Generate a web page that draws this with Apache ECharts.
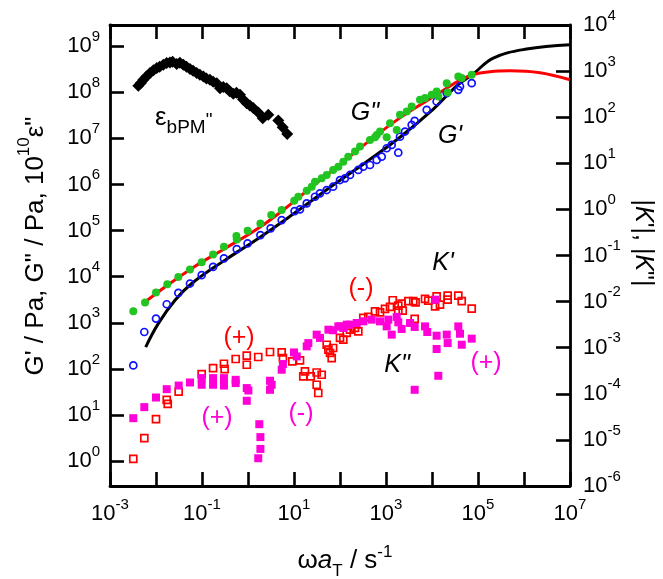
<!DOCTYPE html>
<html>
<head>
<meta charset="utf-8">
<script src="https://cdn.jsdelivr.net/npm/echarts@6/dist/echarts.min.js"></script>
<style>
  html, body { margin: 0; padding: 0; background: #fff; }
  #chart { width: 663px; height: 579px; }
</style>
</head>
<body>
<div id="chart"></div>
<script>
// Storage modulus G' (Pa) vs reduced frequency (1/s)
const gStorage = [
  [3.21e-3, 119], [5.57e-3, 631], [1.0e-2, 1234], [1.71e-2, 2525], [3.06e-2, 4445],
  [5.48e-2, 7110], [9.84e-2, 1.08e4], [0.174, 1.63e4], [0.30, 2.49e4], [0.57, 3.96e4],
  [0.98, 5.27e4], [1.86, 7.98e4], [3.11, 1.12e5], [5.4, 1.69e5], [10.3, 2.65e5],
  [13.5, 2.89e5], [18.9, 3.9e5], [28.6, 5.43e5], [36.7, 6.44e5], [51.4, 7.59e5],
  [70.8, 8.96e5], [100, 1.25e6], [128, 1.36e6], [165, 1.61e6], [250, 2.07e6],
  [321, 2.44e6], [449, 2.65e6], [628, 3.41e6], [807, 4.02e6], [1035, 6.12e6],
  [1330, 7.22e6], [1850, 4.91e6], [2014, 1.09e7], [2590, 1.41e7], [3620, 1.96e7],
  [4200, 2.4e7], [7670, 4.17e7], [1.26e4, 6.31e7], [2.09e4, 9.6e7], [3.73e4, 1.13e8],
  [4.06e4, 1.34e8], [7.3e4, 1.58e8]
];

// Loss modulus G'' (Pa)
const gLoss = [
  [3.21e-3, 1780], [5.77e-3, 2750], [1.0e-2, 4540], [1.76e-2, 6870], [3.06e-2, 9900],
  [5.48e-2, 1.43e4], [9.84e-2, 2.07e4], [0.174, 3.04e4], [0.30, 4.45e4], [0.56, 7.6e4],
  [0.57, 6.44e4], [0.98, 9.9e4], [1.86, 1.43e5], [3.2, 2.17e5], [5.4, 2.79e5],
  [10.1, 4.44e5], [12.4, 5.43e5], [18.9, 7.33e5], [24.3, 8.96e5], [28.6, 1.15e6],
  [40, 1.36e6], [51.4, 1.61e6], [70.8, 2.07e6], [92, 2.44e6], [118, 3.13e6],
  [151, 4.02e6], [212, 5.17e6], [272, 6.64e6], [449, 9.27e6], [577, 1.06e7],
  [628, 1.19e7], [741, 1.41e7], [1035, 1.06e7], [1222, 2.14e7], [1710, 1.53e7],
  [2014, 3.24e7], [2820, 3.83e7], [3620, 4.91e7], [5480, 6.87e7], [7050, 7.48e7],
  [9840, 8.83e7], [1.26e4, 1.04e8], [1.37e4, 8.1e7], [2.09e4, 1.58e8], [2.19e4, 9.9e7],
  [3.73e4, 2.2e8], [4.43e4, 2.04e8], [7.3e4, 2.4e8]
];

// Model curves for G' and G''
const fitStorage = [
  [5.97e-3, 298], [1.12e-2, 962], [2.59e-2, 3080], [5.97e-2, 7110], [0.316, 2.29e4],
  [1.67, 6.76e4], [8.91, 2.17e5], [71.4, 9.75e5], [380, 3.13e6], [2010, 1.06e7],
  [1.07e4, 4.31e7], [3.44e4, 1.38e8], [7.9e4, 2.52e8], [2.15e5, 5.54e8],
  [1.14e6, 8.69e8], [1e7, 1.08e9]
];
const fitLoss = [
  [5.77e-3, 2830], [1.12e-2, 4680], [5.97e-2, 1.51e4], [0.316, 4.1e4], [1.67, 1.12e5],
  [8.91, 3.9e5], [24.3, 8.96e5], [71.4, 2.07e6], [380, 7.98e6], [2010, 2.79e7],
  [1.07e4, 7.98e7], [5.68e4, 2.17e8], [1.82e5, 2.79e8], [4.97e5, 2.93e8],
  [2.23e6, 2.65e8], [1e7, 1.87e8]
];

// Dielectric loss of the bPM blocks, plotted as 10^10 eps''
const epsLoss = [
  [4.12e-3, 1.38e8], [4.7e-3, 1.6e8], [5.3e-3, 1.87e8], [6.2e-3, 2.2e8], [7.41e-3, 2.61e8],
  [8.8e-3, 3.0e8], [1.04e-2, 3.36e8], [1.2e-2, 3.6e8], [1.44e-2, 3.96e8], [1.7e-2, 4.3e8],
  [2.01e-2, 4.45e8], [2.3e-2, 4.6e8], [2.82e-2, 4.1e8], [3.3e-2, 4.35e8], [3.92e-2, 3.96e8],
  [4.6e-2, 3.6e8], [5.48e-2, 3.19e8], [6.4e-2, 2.95e8], [7.67e-2, 2.61e8], [9.0e-2, 2.4e8],
  [0.107, 2.2e8], [0.125, 2.0e8], [0.149, 1.87e8], [0.175, 1.7e8], [0.209, 1.58e8],
  [0.246, 1.23e8], [0.29, 1.3e8], [0.344, 1.23e8], [0.4, 1.05e8], [0.479, 9.27e7],
  [0.56, 9.8e7], [0.67, 8.83e7], [0.78, 7.0e7], [0.937, 5.82e7], [1.1, 5.2e7],
  [1.3, 4.54e7], [1.67, 3.64e7], [2.09, 2.75e7], [2.76, 3.24e7], [4.56, 2.44e7],
  [5.68, 1.75e7], [7.14, 1.25e7]
];

// |K'| (right axis)
const kReal = [
  [3.21e-3, 3.86e-6], [5.57e-3, 1.09e-5], [1.0e-2, 2.82e-5], [1.71e-2, 7.41e-5], [1.8e-2, 6.07e-5],
  [3.11e-2, 1.12e-4], [9.84e-2, 2.68e-4], [0.174, 3.62e-4], [0.30, 4.49e-4], [0.31, 3.44e-4],
  [0.54, 5.68e-4], [0.94, 6.7e-4], [0.94, 4.27e-4], [1.67, 6.28e-4], [3.01, 8.07e-4],
  [5.4, 7.9e-4], [5.75, 5.97e-4], [9.2, 5.04e-4], [13.5, 5.3e-4], [17.3, 3.05e-4],
  [15.9, 2.38e-4], [23.1, 2.38e-4], [31.1, 2.9e-4], [40, 2.59e-4], [31.1, 1.57e-4],
  [33.7, 1.04e-4], [51.4, 1.16e-3], [56, 9.05e-4], [70.8, 9.85e-4], [60.7, 7.67e-4],
  [66, 5.97e-4], [100, 1.63e-3], [118, 1.49e-3], [140, 2.09e-3], [165, 2.46e-3],
  [212, 2.68e-3], [250, 2.26e-3], [321, 4.42e-3], [412, 4.65e-3], [577, 6.15e-3],
  [741, 5.85e-3], [951, 6.94e-3], [1222, 7.67e-3], [1400, 1.07e-2], [1850, 8.19e-3],
  [2190, 9.05e-3], [2310, 6.37e-3], [1850, 6.37e-3], [3055, 1.02e-2], [3920, 1.02e-2],
  [4200, 4.2e-3], [4400, 9.66e-3], [7050, 1.15e-2], [8320, 1.05e-2], [1.26e4, 1.3e-2],
  [1.17e4, 7.9e-3], [1.49e4, 8.6e-3], [2.19e4, 1.35e-2], [2.19e4, 1.1e-2], [3.73e4, 1.35e-2],
  [4.43e4, 1.02e-2], [7.3e4, 7.05e-3]
];

// |K''| (right axis)
const kImag = [
  [3.21e-3, 2.96e-5], [5.57e-3, 5.14e-5], [1.0e-2, 8.31e-5], [1.71e-2, 1.26e-4], [3.11e-2, 1.51e-4],
  [5.48e-2, 1.76e-4], [9.84e-2, 2.19e-4], [9.84e-2, 1.57e-4], [0.174, 2.19e-4], [0.174, 1.57e-4],
  [0.30, 2.19e-4], [0.30, 1.51e-4], [0.54, 2.01e-4], [0.54, 1.71e-4], [0.94, 1.33e-4],
  [1.02, 1.18e-4], [0.94, 7.05e-5], [1.76, 2.19e-5], [1.86, 1.15e-5], [1.86, 6.37e-6],
  [1.67, 4.0e-6], [3.01, 1.92e-4], [3.27, 1.57e-4], [3.01, 1.22e-4], [5.4, 3.33e-4],
  [5.75, 4.42e-4], [10, 7.9e-4], [11.5, 6.47e-4], [18.9, 1.07e-3], [20.5, 1.26e-3],
  [31.1, 1.92e-3], [36.7, 1.63e-3], [56, 2.46e-3], [70.8, 2.39e-3], [92, 2.9e-3],
  [100, 2.9e-3], [118, 2.68e-3], [140, 3.16e-3], [165, 3.16e-3], [231, 3.44e-3],
  [321, 3.73e-3], [489, 4.06e-3], [741, 3.73e-3], [1035, 2.9e-3], [1122, 4.06e-3],
  [1330, 1.92e-3], [1710, 4.65e-3], [1850, 3.55e-3], [2190, 2.55e-3], [3330, 3.44e-3],
  [4200, 2.82e-3], [4200, 1.22e-4], [7050, 2.9e-3], [7900, 2.19e-3], [1.17e4, 1.1e-2],
  [1.26e4, 1.82e-3], [1.26e4, 9.37e-4], [1.37e4, 2.46e-4], [2.09e4, 1.92e-3], [2.19e4, 1.26e-3],
  [3.73e4, 2.9e-3], [4.06e4, 2.01e-3], [4.43e4, 1.16e-3], [7.3e4, 1.57e-3]
];

// Axis ranges and decade ticks
const xRange = [1e-3, 1e7];
const yLeftRange = [Math.pow(10, -0.54), Math.pow(10, 9.46)];
const yRightRange = [1e-6, 1e4];
const xTicks = [1e-3, 1e-2, 1e-1, 1e0, 1e1, 1e2, 1e3, 1e4, 1e5, 1e6, 1e7];
const xTickLabels = [1e-3, 1e-1, 1e1, 1e3, 1e5, 1e7];
const yLeftTicks = [1e0, 1e1, 1e2, 1e3, 1e4, 1e5, 1e6, 1e7, 1e8, 1e9];
const yRightTicks = [1e-6, 1e-5, 1e-4, 1e-3, 1e-2, 1e-1, 1e0, 1e1, 1e2, 1e3, 1e4];

const FONT = '"Liberation Sans", Arial, sans-serif';
const RED = '#ff0000';
const MAGENTA = '#ff00d8';
const GREEN = '#22c422';
const BLUE = '#1010ff';

function powerLabel(v) {
  const e = Math.log10(v);
  const r = Math.round(e);
  if (Math.abs(e - r) > 1e-3) return '';
  return '{b|10}{s|' + r + '}';
}

const powerRich = {
  b: { fontSize: 22, lineHeight: 22, verticalAlign: 'bottom', fontFamily: FONT, color: '#000' },
  s: { fontSize: 15, lineHeight: 15, verticalAlign: 'bottom', padding: [0, 0, 13, 0], fontFamily: FONT, color: '#000' }
};

const frameLine = { show: true, lineStyle: { color: '#000', width: 2.8 } };
function innerTick(values) {
  return { show: true, inside: true, length: 14, customValues: values, lineStyle: { color: '#000', width: 2.6 } };
}

const chart = echarts.init(document.getElementById('chart'), null, { renderer: 'canvas' });

chart.setOption({
  animation: false,
  backgroundColor: '#fff',
  grid: { left: 110, right: 93, top: 25, bottom: 93, containLabel: false },
  xAxis: [
    {
      type: 'log', min: xRange[0], max: xRange[1], position: 'bottom',
      axisLine: frameLine, axisTick: innerTick(xTicks), splitLine: { show: false },
      axisLabel: { margin: 17, customValues: xTickLabels, formatter: powerLabel, rich: powerRich }
    },
    {
      type: 'log', min: xRange[0], max: xRange[1], position: 'top',
      axisLine: frameLine, axisTick: innerTick(xTicks), splitLine: { show: false },
      axisLabel: { show: false }
    }
  ],
  yAxis: [
    {
      type: 'log', min: yLeftRange[0], max: yLeftRange[1], position: 'left',
      axisLine: frameLine, axisTick: innerTick(yLeftTicks), splitLine: { show: false },
      axisLabel: { margin: 10, customValues: yLeftTicks, formatter: powerLabel, rich: powerRich }
    },
    {
      type: 'log', min: yRightRange[0], max: yRightRange[1], position: 'right',
      axisLine: frameLine, axisTick: innerTick(yRightTicks), splitLine: { show: false },
      axisLabel: { margin: 13, customValues: yRightTicks, formatter: powerLabel, rich: powerRich }
    }
  ],
  series: [
    {
      name: "G' fit", type: 'line', data: fitStorage, smooth: 0.4, symbol: 'none',
      lineStyle: { color: '#000', width: 3 }, z: 2
    },
    {
      name: "G'' fit", type: 'line', data: fitLoss, smooth: 0.4, symbol: 'none',
      lineStyle: { color: RED, width: 3 }, z: 2
    },
    {
      name: "G'", type: 'scatter', data: gStorage, symbol: 'circle', symbolSize: 7,
      itemStyle: { color: 'rgba(0,0,0,0)', borderColor: BLUE, borderWidth: 1.7, opacity: 1 }, z: 3
    },
    {
      name: "G''", type: 'scatter', data: gLoss, symbol: 'circle', symbolSize: 8,
      itemStyle: { color: GREEN, opacity: 1 }, z: 3
    },
    {
      name: "K'", type: 'scatter', yAxisIndex: 1, data: kReal, symbol: 'rect', symbolSize: 7,
      itemStyle: { color: 'rgba(0,0,0,0)', borderColor: RED, borderWidth: 1.7, opacity: 1 }, z: 3
    },
    {
      name: "K''", type: 'scatter', yAxisIndex: 1, data: kImag, symbol: 'rect', symbolSize: 8,
      itemStyle: { color: MAGENTA, opacity: 1 }, z: 4
    },
    {
      name: 'eps bPM', type: 'scatter', data: epsLoss, symbol: 'diamond', symbolSize: 12,
      itemStyle: { color: '#000', opacity: 1 }, z: 3
    }
  ],
  graphic: [
    // axis titles
    {
      type: 'text', x: 36, y: 246, rotation: Math.PI / 2,
      style: {
        text: "{t|G' / Pa, G\" / Pa, 10}{s|10}{t|ε\"}",
        align: 'center', verticalAlign: 'middle',
        rich: {
          t: { fontSize: 26, lineHeight: 26, verticalAlign: 'bottom', fontFamily: FONT, fill: '#000' },
          s: { fontSize: 17, lineHeight: 17, verticalAlign: 'bottom', padding: [0, 0, 16, 0], fontFamily: FONT, fill: '#000' }
        }
      }
    },
    {
      type: 'text', x: 643, y: 243, rotation: -Math.PI / 2,
      style: {
        text: "{t||}{i|K}{t|'|, |}{i|K}{t|\"|}",
        align: 'center', verticalAlign: 'middle',
        rich: {
          t: { fontSize: 25, fontFamily: FONT, fill: '#000' },
          i: { fontSize: 25, fontStyle: 'italic', fontFamily: FONT, fill: '#000' }
        }
      }
    },
    {
      type: 'text', x: 345, y: 567,
      style: {
        text: '{t|ω}{i|a}{d|T}{t| / s}{u|-1}',
        align: 'center', verticalAlign: 'middle',
        rich: {
          t: { fontSize: 26, lineHeight: 26, verticalAlign: 'bottom', padding: [0, 0, 6, 0], fontFamily: FONT, fill: '#000' },
          i: { fontSize: 26, lineHeight: 26, verticalAlign: 'bottom', padding: [0, 0, 6, 0], fontStyle: 'italic', fontFamily: FONT, fill: '#000' },
          d: { fontSize: 17, lineHeight: 17, verticalAlign: 'bottom', fontFamily: FONT, fill: '#000' },
          u: { fontSize: 17, lineHeight: 17, verticalAlign: 'bottom', padding: [0, 0, 19, 0], fontFamily: FONT, fill: '#000' }
        }
      }
    },
    // curve annotations
    {
      type: 'text', x: 155, y: 124,
      style: {
        text: '{e|ε}{b|bPM}{q|"}',
        align: 'left', verticalAlign: 'middle',
        rich: {
          e: { fontSize: 26, lineHeight: 26, verticalAlign: 'bottom', padding: [0, 0, 6, 0], fontFamily: FONT, fill: '#000' },
          b: { fontSize: 19, lineHeight: 19, verticalAlign: 'bottom', fontFamily: FONT, fill: '#000' },
          q: { fontSize: 19, lineHeight: 19, verticalAlign: 'top', fontFamily: FONT, fill: '#000' }
        }
      }
    },
    { type: 'text', x: 365, y: 113, style: { text: 'G"', align: 'center', verticalAlign: 'middle', font: 'italic 25px ' + FONT, fill: '#000' } },
    { type: 'text', x: 450, y: 136, style: { text: "G'", align: 'center', verticalAlign: 'middle', font: 'italic 25px ' + FONT, fill: '#000' } },
    { type: 'text', x: 443, y: 263, style: { text: "K'", align: 'center', verticalAlign: 'middle', font: 'italic 25px ' + FONT, fill: '#000' } },
    { type: 'text', x: 397, y: 365, style: { text: 'K"', align: 'center', verticalAlign: 'middle', font: 'italic 25px ' + FONT, fill: '#000' } },
    // sign markers
    { type: 'text', x: 361, y: 289, style: { text: '(-)', align: 'center', verticalAlign: 'middle', font: '25px ' + FONT, fill: RED } },
    { type: 'text', x: 239, y: 338, style: { text: '(+)', align: 'center', verticalAlign: 'middle', font: '25px ' + FONT, fill: RED } },
    { type: 'text', x: 217, y: 418, style: { text: '(+)', align: 'center', verticalAlign: 'middle', font: '25px ' + FONT, fill: MAGENTA } },
    { type: 'text', x: 301, y: 414, style: { text: '(-)', align: 'center', verticalAlign: 'middle', font: '25px ' + FONT, fill: MAGENTA } },
    { type: 'text', x: 486, y: 363, style: { text: '(+)', align: 'center', verticalAlign: 'middle', font: '25px ' + FONT, fill: MAGENTA } }
  ]
});
</script>
</body>
</html>
